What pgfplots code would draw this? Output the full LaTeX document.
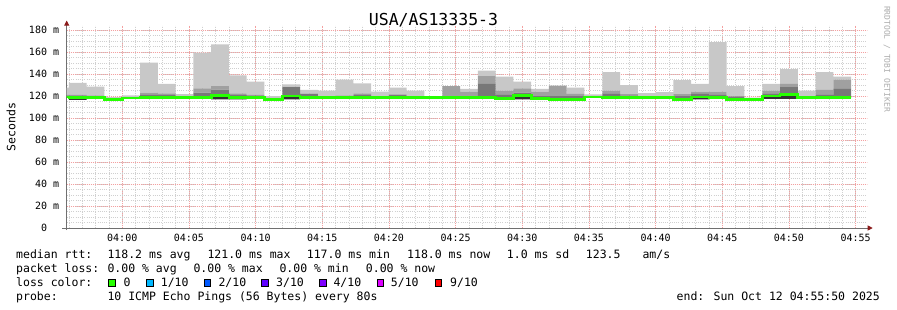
\documentclass[border=0pt]{standalone}
\usepackage{fontspec}
\setmainfont{DejaVu Sans Mono}
\usepackage{pgfplots}
\pgfplotsset{compat=1.18}
\usepackage{pgfplotstable}
\usetikzlibrary{arrows.meta}

\definecolor{smokeA}{HTML}{C8C8C8}
\definecolor{smokeB}{HTML}{A0A0A0}
\definecolor{smokeC}{HTML}{787878}
\definecolor{smokeD}{HTML}{333333}
\definecolor{medgreen}{HTML}{26FF00}
\definecolor{mgrid}{HTML}{F4A0A0}
\definecolor{ngrid}{HTML}{D0D0D0}
\definecolor{axgrey}{HTML}{707070}
\definecolor{arrowred}{HTML}{8B1A1A}
\definecolor{lc1}{HTML}{00B8FF}
\definecolor{lc2}{HTML}{0059FF}
\definecolor{lc3}{HTML}{5E00FF}
\definecolor{lc4}{HTML}{7E00FF}
\definecolor{lc5}{HTML}{DD00FF}
\definecolor{lc9}{HTML}{FF0000}

\newcommand\legfont{\fontsize{11.5bp}{14bp}\selectfont}

% t = start of each 80 s step (minutes after 04:00)
\pgfplotstableread{
t lo med dk md mx
-5.3333 118.5 119.0 120.0 121.0 127.6
-4.0000 116.5 118.5 120.5 121.0 132.0
-2.6667 117.5 118.5 120.0 120.5 128.5
-1.3333 116.0 116.6 117.5 118.0 119.0
0.0000 117.5 118.2 119.0 119.0 120.6
1.3333 118.0 118.5 121.5 123.0 150.3
2.6667 118.0 118.5 121.5 122.4 131.0
4.0000 118.0 118.5 119.5 120.0 121.8
5.3333 118.0 118.5 123.0 127.0 159.4
6.6667 117.0 120.5 125.7 129.0 167.0
8.0000 117.0 118.5 121.0 122.4 138.8
9.3333 118.0 118.5 120.5 121.0 133.0
10.6667 116.3 116.8 118.0 118.5 120.0
12.0000 117.0 120.0 128.0 128.5 130.6
13.3333 118.0 118.5 121.8 122.4 125.5
14.6667 118.0 118.5 119.5 120.0 124.8
16.0000 118.0 118.5 120.0 120.6 135.0
17.3333 118.0 118.5 121.0 122.4 131.5
18.6667 118.0 118.5 119.5 120.0 124.0
20.0000 118.0 118.5 121.0 121.5 127.6
21.3333 118.0 118.5 119.5 120.0 124.8
22.6667 118.0 118.5 119.0 119.0 120.0
24.0000 118.0 118.5 120.0 129.0 129.0
25.3333 118.0 118.5 120.0 124.0 126.4
26.6667 118.0 118.5 131.5 138.0 143.0
28.0000 117.0 117.5 121.0 124.8 137.6
29.3333 117.0 120.5 123.0 127.0 133.0
30.6667 117.0 117.5 120.0 124.0 126.4
32.0000 116.5 117.0 120.0 129.4 129.4
33.3333 116.5 117.0 120.0 122.0 127.6
34.6667 118.5 119.0 119.5 120.0 121.5
36.0000 118.0 118.5 122.0 124.8 141.8
37.3333 118.0 118.5 120.5 121.8 130.0
38.6667 118.0 118.5 119.5 120.0 122.7
40.0000 118.0 118.5 119.5 120.0 123.6
41.3333 116.5 117.0 120.0 121.8 134.5
42.6667 117.0 119.0 122.0 124.0 131.0
44.0000 118.0 118.5 121.0 124.0 169.0
45.3333 116.5 117.0 119.5 120.0 129.0
46.6667 116.5 117.0 117.5 118.0 118.5
48.0000 117.5 120.0 122.0 125.0 131.0
49.3333 117.5 121.2 128.0 131.0 144.5
50.6667 118.0 118.8 119.5 120.0 124.8
52.0000 118.0 118.7 121.0 125.5 141.8
53.3333 118.0 118.7 126.4 135.0 137.6
}\smoke
% median line (step starts, last row closes the final step)
\pgfplotstableread{
t med
-5.3333 119.0
-4.0000 118.5
-2.6667 118.5
-1.3333 116.6
0.0000 118.2
1.3333 118.5
2.6667 118.5
4.0000 118.5
5.3333 118.5
6.6667 120.5
8.0000 118.5
9.3333 118.5
10.6667 116.8
12.0000 120.0
13.3333 118.5
14.6667 118.5
16.0000 118.5
17.3333 118.5
18.6667 118.5
20.0000 118.5
21.3333 118.5
22.6667 118.5
24.0000 118.5
25.3333 118.5
26.6667 118.5
28.0000 117.5
29.3333 120.5
30.6667 117.5
32.0000 117.0
33.3333 117.0
34.6667 119.0
36.0000 118.5
37.3333 118.5
38.6667 118.5
40.0000 118.5
41.3333 117.0
42.6667 119.0
44.0000 118.5
45.3333 117.0
46.6667 117.0
48.0000 120.0
49.3333 121.2
50.6667 118.8
52.0000 118.7
53.3333 118.7
54.6667 118.7
}\median

\pgfplotsset{
  base/.style={
    at={(66.7bp,-228bp)}, anchor=south west,
    scale only axis, width=800bp, height=202.4bp,
    xmin=-4.1667, xmax=55.8333, ymin=0, ymax=184,
  }
}

\begin{document}
\begin{tikzpicture}
\path[use as bounding box, fill=white] (0,0) rectangle (897bp,-310bp);
\begin{axis}[
  base,
  ybar stacked, bar width=1.33333,
  axis lines*=left,
  x axis line style={draw=axgrey, line width=0.8bp, shorten <=-4.5bp, shorten >=-6bp, -{Triangle[length=5bp,width=5bp,color=arrowred]}},
  y axis line style={draw=axgrey, line width=0.8bp, shorten <=-2bp, shorten >=-5bp, -{Triangle[length=5bp,width=5bp,color=arrowred]}},
  xtick={0,5,...,55},
  xticklabels={04:00,04:05,04:10,04:15,04:20,04:25,04:30,04:35,04:40,04:45,04:50,04:55},
  minor xtick={-4,-3,...,55},
  ytick={0,20,...,180},
  yticklabels={0\phantom{\ m},20 m,40 m,60 m,80 m,100 m,120 m,140 m,160 m,180 m},
  minor ytick={5,10,...,180},
  grid=both,
  major grid style={draw=mgrid, line width=0.8bp, dash pattern=on 1bp off 1bp},
  minor grid style={draw=ngrid, line width=0.7bp, dash pattern=on 1bp off 1.2bp},
  major tick length=0pt, minor tick length=0pt,
  tick label style={font=\fontsize{10bp}{12bp}\selectfont, text=black},
  xticklabel style={anchor=base, inner sep=0pt, yshift=-13bp},
  yticklabel style={anchor=base east, inner sep=0pt, xshift=-7.4bp, yshift=-3.6bp},
]
\addplot[draw=none, fill=none] table[x expr=\thisrow{t}+0.66667, y=lo] {\smoke};
\addplot[draw=none, fill=smokeD] table[x expr=\thisrow{t}+0.66667, y expr=\thisrow{med}-\thisrow{lo}] {\smoke};
\addplot[draw=none, fill=smokeC] table[x expr=\thisrow{t}+0.66667, y expr=\thisrow{dk}-\thisrow{med}] {\smoke};
\addplot[draw=none, fill=smokeB] table[x expr=\thisrow{t}+0.66667, y expr=\thisrow{md}-\thisrow{dk}] {\smoke};
\addplot[draw=none, fill=smokeA] table[x expr=\thisrow{t}+0.66667, y expr=\thisrow{mx}-\thisrow{md}] {\smoke};
\end{axis}
\begin{axis}[base, hide axis]
\addplot[draw=medgreen, line width=2.8bp, const plot, mark=none] table[x=t, y=med] {\median};
\end{axis}

% title and side texts
\node[anchor=base, inner sep=0pt, font=\fontsize{16.5bp}{18bp}\selectfont] at (433.5bp,-25bp) {USA/AS13335-3};
\node[rotate=90, inner sep=0pt, font=\legfont] at (11bp,-127bp) {Seconds};
\node[rotate=-90, inner sep=0pt, text=black!32, font=\fontsize{8bp}{9bp}\selectfont] at (887bp,-59bp) {RRDTOOL / TOBI OETIKER};

% legend rows
\begin{scope}[every node/.style={anchor=base west, inner sep=0pt, font=\legfont}]
\node at (16bp,-258.3bp) {median rtt:};
\node at (107.3bp,-258.3bp) {118.2 ms avg};
\node at (207.3bp,-258.3bp) {121.0 ms max};
\node at (306.7bp,-258.3bp) {117.0 ms min};
\node at (407bp,-258.3bp) {118.0 ms now};
\node at (506.7bp,-258.3bp) {1.0 ms sd};
\node at (585.7bp,-258.3bp) {123.5};
\node at (642.3bp,-258.3bp) {am/s};

\node at (16bp,-272.3bp) {packet loss:};
\node at (107.3bp,-272.3bp) {0.00 \% avg};
\node at (193.3bp,-272.3bp) {0.00 \% max};
\node at (279.3bp,-272.3bp) {0.00 \% min};
\node at (365.7bp,-272.3bp) {0.00 \% now};

\node at (16bp,-286.3bp) {loss color:};
\node at (123.3bp,-286.3bp) {0};
\node at (160.7bp,-286.3bp) {1/10};
\node at (218.3bp,-286.3bp) {2/10};
\node at (276bp,-286.3bp) {3/10};
\node at (333.3bp,-286.3bp) {4/10};
\node at (390.7bp,-286.3bp) {5/10};
\node at (450bp,-286.3bp) {9/10};

\node at (16bp,-300.3bp) {probe:};
\node at (107.3bp,-300.3bp) {10 ICMP Echo Pings (56 Bytes) every 80s};
\node[anchor=base east] at (880bp,-300.3bp) {end: Sun Oct 12 04:55:50 2025};
\end{scope}

\begin{scope}[line width=0.7bp]
\draw[fill=medgreen] (108.7bp,-279.5bp) rectangle ++(6.6bp,-6.8bp);
\draw[fill=lc1] (146.7bp,-279.5bp) rectangle ++(6.6bp,-6.8bp);
\draw[fill=lc2] (204bp,-279.5bp) rectangle ++(6.6bp,-6.8bp);
\draw[fill=lc3] (261.7bp,-279.5bp) rectangle ++(6.6bp,-6.8bp);
\draw[fill=lc4] (319.3bp,-279.5bp) rectangle ++(6.6bp,-6.8bp);
\draw[fill=lc5] (377bp,-279.5bp) rectangle ++(6.6bp,-6.8bp);
\draw[fill=lc9] (435bp,-279.5bp) rectangle ++(6.6bp,-6.8bp);
\end{scope}
\end{tikzpicture}
\end{document}
